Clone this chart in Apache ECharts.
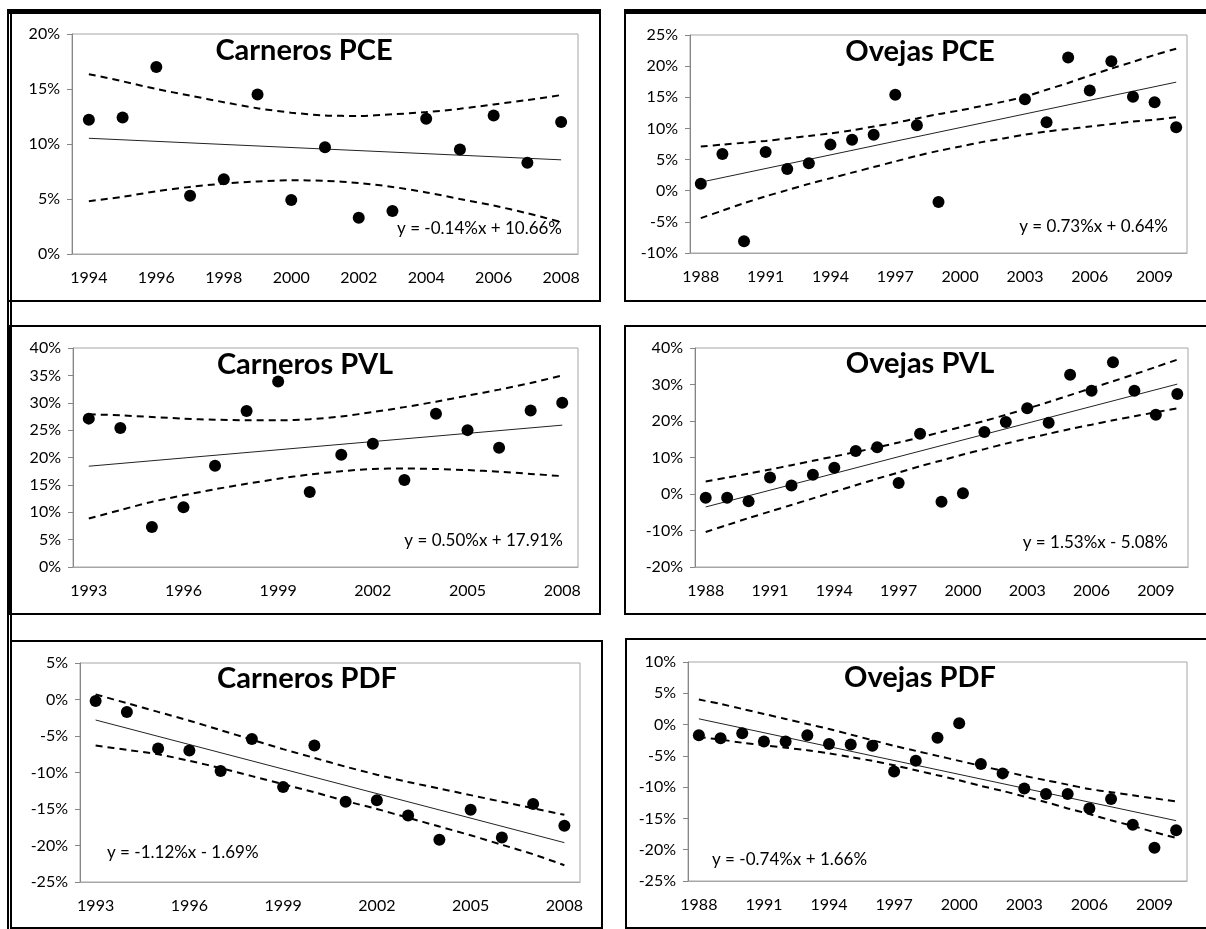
<!DOCTYPE html>
<html>
<head>
<meta charset="utf-8">
<script src="https://cdn.jsdelivr.net/npm/echarts@6/dist/echarts.min.js"></script>
<style>
  html, body { margin: 0; padding: 0; background: #fff; }
  #chart { width: 1206px; height: 929px; }
</style>
</head>
<body>
<div id="chart"></div>
<script>
// ---------------- data (percent values) ----------------
var yearsA = ['1994','1995','1996','1997','1998','1999','2000','2001','2002','2003','2004','2005','2006','2007','2008'];
var yearsB = ['1993','1994','1995','1996','1997','1998','1999','2000','2001','2002','2003','2004','2005','2006','2007','2008'];
var yearsC = ['1988','1989','1990','1991','1992','1993','1994','1995','1996','1997','1998','1999',
              '2000','2001','2002','2003','2004','2005','2006','2007','2008','2009','2010'];

// Carneros PCE
var carPCE      = [12.2, 12.4, 17.0, 5.3, 6.8, 14.5, 4.9, 9.7, 3.3, 3.9, 12.3, 9.5, 12.6, 8.3, 12.0];
var carPCEUpper = [16.35, 15.7, 15.0, 14.4, 13.8, 13.25, 12.85, 12.6, 12.55, 12.7, 12.9, 13.2, 13.6, 14.0, 14.45];
var carPCELower = [4.8, 5.2, 5.7, 6.1, 6.4, 6.6, 6.7, 6.65, 6.45, 6.1, 5.6, 5.0, 4.4, 3.7, 2.9];
var carPCETrend = [10.52, 8.56];

// Ovejas PCE
var ovePCE      = [1.1, 5.9, -8.1, 6.2, 3.5, 4.4, 7.4, 8.2, 9.0, 15.4, 10.5, -1.8,
                   null, null, null, 14.7, 11.0, 21.4, 16.1, 20.8, 15.1, 14.2, 10.2];
var ovePCEUpper = [7.1, 7.4, 7.7, 8.0, 8.4, 8.8, 9.2, 9.7, 10.3, 10.9, 11.6, 12.3,
                   12.9, 13.6, 14.3, 15.1, 16.2, 17.3, 18.5, 19.6, 20.7, 21.8, 22.8];
var ovePCELower = [-4.4, -3.2, -2.0, -0.9, 0.1, 1.1, 2.0, 2.9, 3.8, 4.7, 5.6, 6.4,
                   7.1, 7.8, 8.4, 9.0, 9.5, 9.9, 10.3, 10.7, 11.1, 11.4, 11.8];
var ovePCETrend = [1.37, 17.43];

// Carneros PVL
var carPVL      = [27.1, 25.4, 7.3, 10.9, 18.5, 28.5, 33.9, 13.7, 20.5, 22.5, 15.9, 28.0, 25.0, 21.8, 28.6, 30.0];
var carPVLUpper = [27.9, 27.7, 27.4, 27.1, 26.9, 26.8, 26.8, 27.0, 27.5, 28.3, 29.2, 30.2, 31.3, 32.4, 33.6, 35.0];
var carPVLLower = [8.85, 10.4, 11.9, 13.1, 14.2, 15.2, 16.1, 16.9, 17.5, 17.9, 18.0, 17.9, 17.7, 17.4, 17.0, 16.6];
var carPVLTrend = [18.41, 25.91];

// Ovejas PVL
var ovePVL      = [-1.0, -1.0, -2.0, 4.5, 2.3, 5.3, 7.2, 11.8, 12.8, 3.0, 16.5, -2.1,
                   0.2, 17.0, 19.7, 23.5, 19.5, 32.7, 28.3, 36.1, 28.3, 21.7, 27.4];
var ovePVLUpper = [3.4, 4.5, 5.6, 6.7, 7.9, 9.1, 10.3, 11.5, 12.8, 14.1, 15.5, 17.0,
                   18.5, 20.0, 21.7, 23.4, 25.2, 27.1, 29.0, 30.9, 32.8, 34.8, 36.8];
var ovePVLLower = [-10.4, -8.5, -6.6, -4.8, -3.0, -1.2, 0.6, 2.4, 4.2, 5.9, 7.6, 9.2,
                   10.8, 12.3, 13.8, 15.2, 16.5, 17.8, 19.0, 20.2, 21.3, 22.4, 23.5];
var ovePVLTrend = [-3.55, 30.11];

// Carneros PDF
var carPDF      = [-0.2, -1.7, -6.7, -7.0, -9.8, -5.4, -12.0, -6.3, -14.0, -13.8, -15.9, -19.2, -15.1, -18.9, -14.3, -17.3];
var carPDFUpper = [0.7, -0.5, -1.7, -2.9, -4.2, -5.5, -6.8, -8.0, -9.2, -10.3, -11.3, -12.2, -13.1, -14.0, -14.9, -15.8];
var carPDFLower = [-6.3, -6.9, -7.5, -8.4, -9.4, -10.5, -11.6, -12.7, -13.9, -15.0, -16.2, -17.4, -18.6, -19.9, -21.2, -22.7];
var carPDFTrend = [-2.81, -19.61];

// Ovejas PDF
var ovePDF      = [-1.7, -2.2, -1.4, -2.7, -2.7, -1.7, -3.1, -3.2, -3.4, -7.5, -5.8, -2.1,
                   0.2, -6.3, -7.8, -10.2, -11.1, -11.1, -13.4, -11.9, -16.0, -19.7, -16.9];
var ovePDFUpper = [4.0, 3.3, 2.5, 1.7, 0.9, 0.1, -0.7, -1.6, -2.5, -3.4, -4.2, -5.0,
                   -5.8, -6.6, -7.4, -8.2, -8.9, -9.6, -10.3, -10.8, -11.3, -11.8, -12.3];
var ovePDFLower = [-2.0, -2.4, -2.9, -3.3, -3.7, -4.1, -4.6, -5.2, -5.8, -6.5, -7.3, -8.1,
                   -8.9, -9.8, -10.6, -11.5, -12.4, -13.4, -14.3, -15.3, -16.2, -17.2, -18.1];
var ovePDFTrend = [0.92, -15.36];

var titles    = ['Carneros PCE', 'Ovejas PCE', 'Carneros PVL', 'Ovejas PVL', 'Carneros PDF', 'Ovejas PDF'];
var equations = ['y = -0.14%x + 10.66%', 'y = 0.73%x + 0.64%', 'y = 0.50%x + 17.91%',
                 'y = 1.53%x - 5.08%', 'y = -1.12%x - 1.69%', 'y = -0.74%x + 1.66%'];

// ---------------- chart ----------------
var FONT = 'Lato, "Open Sans", sans-serif';

var panels = [
    { years: yearsA, pts: carPCE, up: carPCEUpper, lo: carPCELower, tr: carPCETrend,
      min: 0, max: 20, step: 5, every: 1,
      grid: [72, 34, 506, 220], frame: [8, 10, 592, 291], tx: 304, ty: 51, ex: 562, ey: 229, ealign: 'right' },
    { years: yearsC, pts: ovePCE, up: ovePCEUpper, lo: ovePCELower, tr: ovePCETrend,
      min: -10, max: 25, step: 5, every: 2,
      grid: [690, 35, 497, 218], frame: [625, 10, 590, 291], tx: 920, ty: 52, ex: 1168, ey: 227, ealign: 'right' },
    { years: yearsB, pts: carPVL, up: carPVLUpper, lo: carPVLLower, tr: carPVLTrend,
      min: 0, max: 40, step: 5, every: 2,
      grid: [73, 348, 505, 219], frame: [10, 326, 590, 288], tx: 305, ty: 365, ex: 563, ey: 541, ealign: 'right' },
    { years: yearsC, pts: ovePVL, up: ovePVLUpper, lo: ovePVLLower, tr: ovePVLTrend,
      min: -20, max: 40, step: 10, every: 2,
      grid: [695, 348, 493, 219], frame: [625, 326, 590, 288], tx: 920, ty: 364, ex: 1168, ey: 543, ealign: 'right' },
    { years: yearsB, pts: carPDF, up: carPDFUpper, lo: carPDFLower, tr: carPDFTrend,
      min: -25, max: 5, step: 5, every: 2,
      grid: [80, 663, 500, 219], frame: [11, 641, 591, 287], tx: 307, ty: 679, ex: 107, ey: 853, ealign: 'left' },
    { years: yearsC, pts: ovePDF, up: ovePDFUpper, lo: ovePDFLower, tr: ovePDFTrend,
      min: -25, max: 10, step: 5, every: 2,
      grid: [688, 662, 499, 219], frame: [626, 639, 590, 289], tx: 920, ty: 678, ex: 712, ey: 860, ealign: 'left' }
];

var chart = echarts.init(document.getElementById('chart'));

var grids = [], xAxes = [], yAxes = [], series = [], graphics = [];

panels.forEach(function (p, i) {
    grids.push({
        left: p.grid[0], top: p.grid[1], width: p.grid[2], height: p.grid[3],
        show: true, borderColor: '#a6a6a6', borderWidth: 1, backgroundColor: 'transparent'
    });
    xAxes.push({
        gridIndex: i, type: 'category', data: p.years, boundaryGap: true,
        axisLine: { onZero: false, lineStyle: { color: '#a6a6a6' } },
        axisTick: { show: false },
        axisLabel: { interval: p.every, color: '#000', fontFamily: FONT, fontSize: 16, margin: 16 },
        splitLine: { show: false }
    });
    yAxes.push({
        gridIndex: i, type: 'value', min: p.min, max: p.max, interval: p.step,
        axisLine: { show: true, lineStyle: { color: '#868686' } },
        axisTick: { show: true, length: 5, lineStyle: { color: '#868686' } },
        axisLabel: { formatter: '{value}%', color: '#000', fontFamily: FONT, fontSize: 16, margin: 12 },
        splitLine: { show: false }
    });

    var n = p.years.length;
    var pts = [];
    p.pts.forEach(function (v, k) { if (v !== null) pts.push([k, v]); });

    series.push({
        type: 'line', xAxisIndex: i, yAxisIndex: i, smooth: 0.3, symbol: 'none', silent: true,
        data: p.up.map(function (v, k) { return [k, v]; }),
        lineStyle: { color: '#000', width: 2, type: [7, 5] }, z: 2
    });
    series.push({
        type: 'line', xAxisIndex: i, yAxisIndex: i, smooth: 0.3, symbol: 'none', silent: true,
        data: p.lo.map(function (v, k) { return [k, v]; }),
        lineStyle: { color: '#000', width: 2, type: [7, 5] }, z: 2
    });
    series.push({
        type: 'line', xAxisIndex: i, yAxisIndex: i, symbol: 'none', silent: true,
        data: [[0, p.tr[0]], [n - 1, p.tr[1]]],
        lineStyle: { color: '#222', width: 1 }, z: 3
    });
    series.push({
        type: 'scatter', xAxisIndex: i, yAxisIndex: i, symbol: 'circle', symbolSize: 12,
        itemStyle: { color: '#000', opacity: 1 }, data: pts, z: 4
    });

    // panel frame
    graphics.push({
        type: 'rect', shape: { x: p.frame[0], y: p.frame[1], width: p.frame[2], height: p.frame[3] },
        style: { fill: 'none', stroke: '#000', lineWidth: 2 }, silent: true
    });
    // title
    graphics.push({
        type: 'text', x: p.tx, y: p.ty,
        style: { text: titles[i], fill: '#000', font: 'bold 29px ' + FONT, textAlign: 'center', textVerticalAlign: 'middle' },
        z: 10
    });
    // trend equation
    graphics.push({
        type: 'text', x: p.ex, y: p.ey,
        style: { text: equations[i], fill: '#000', font: '17px ' + FONT, textAlign: p.ealign, textVerticalAlign: 'middle' },
        z: 10
    });
});

// heavier outer edges of the pasted picture
graphics.push({ type: 'rect', shape: { x: 8, y: 10, width: 592, height: 4 }, style: { fill: '#000' }, silent: true });
graphics.push({ type: 'rect', shape: { x: 625, y: 10, width: 581, height: 4 }, style: { fill: '#000' }, silent: true });
graphics.push({ type: 'rect', shape: { x: 7, y: 10, width: 2, height: 919 }, style: { fill: '#000' }, silent: true });
graphics.push({ type: 'rect', shape: { x: 10, y: 10, width: 2, height: 919 }, style: { fill: '#000' }, silent: true });

chart.setOption({
    animation: false,
    textStyle: { fontFamily: FONT },
    grid: grids,
    xAxis: xAxes,
    yAxis: yAxes,
    series: series,
    graphic: graphics
});

window.addEventListener('resize', function () { chart.resize(); });
</script>
</body>
</html>
